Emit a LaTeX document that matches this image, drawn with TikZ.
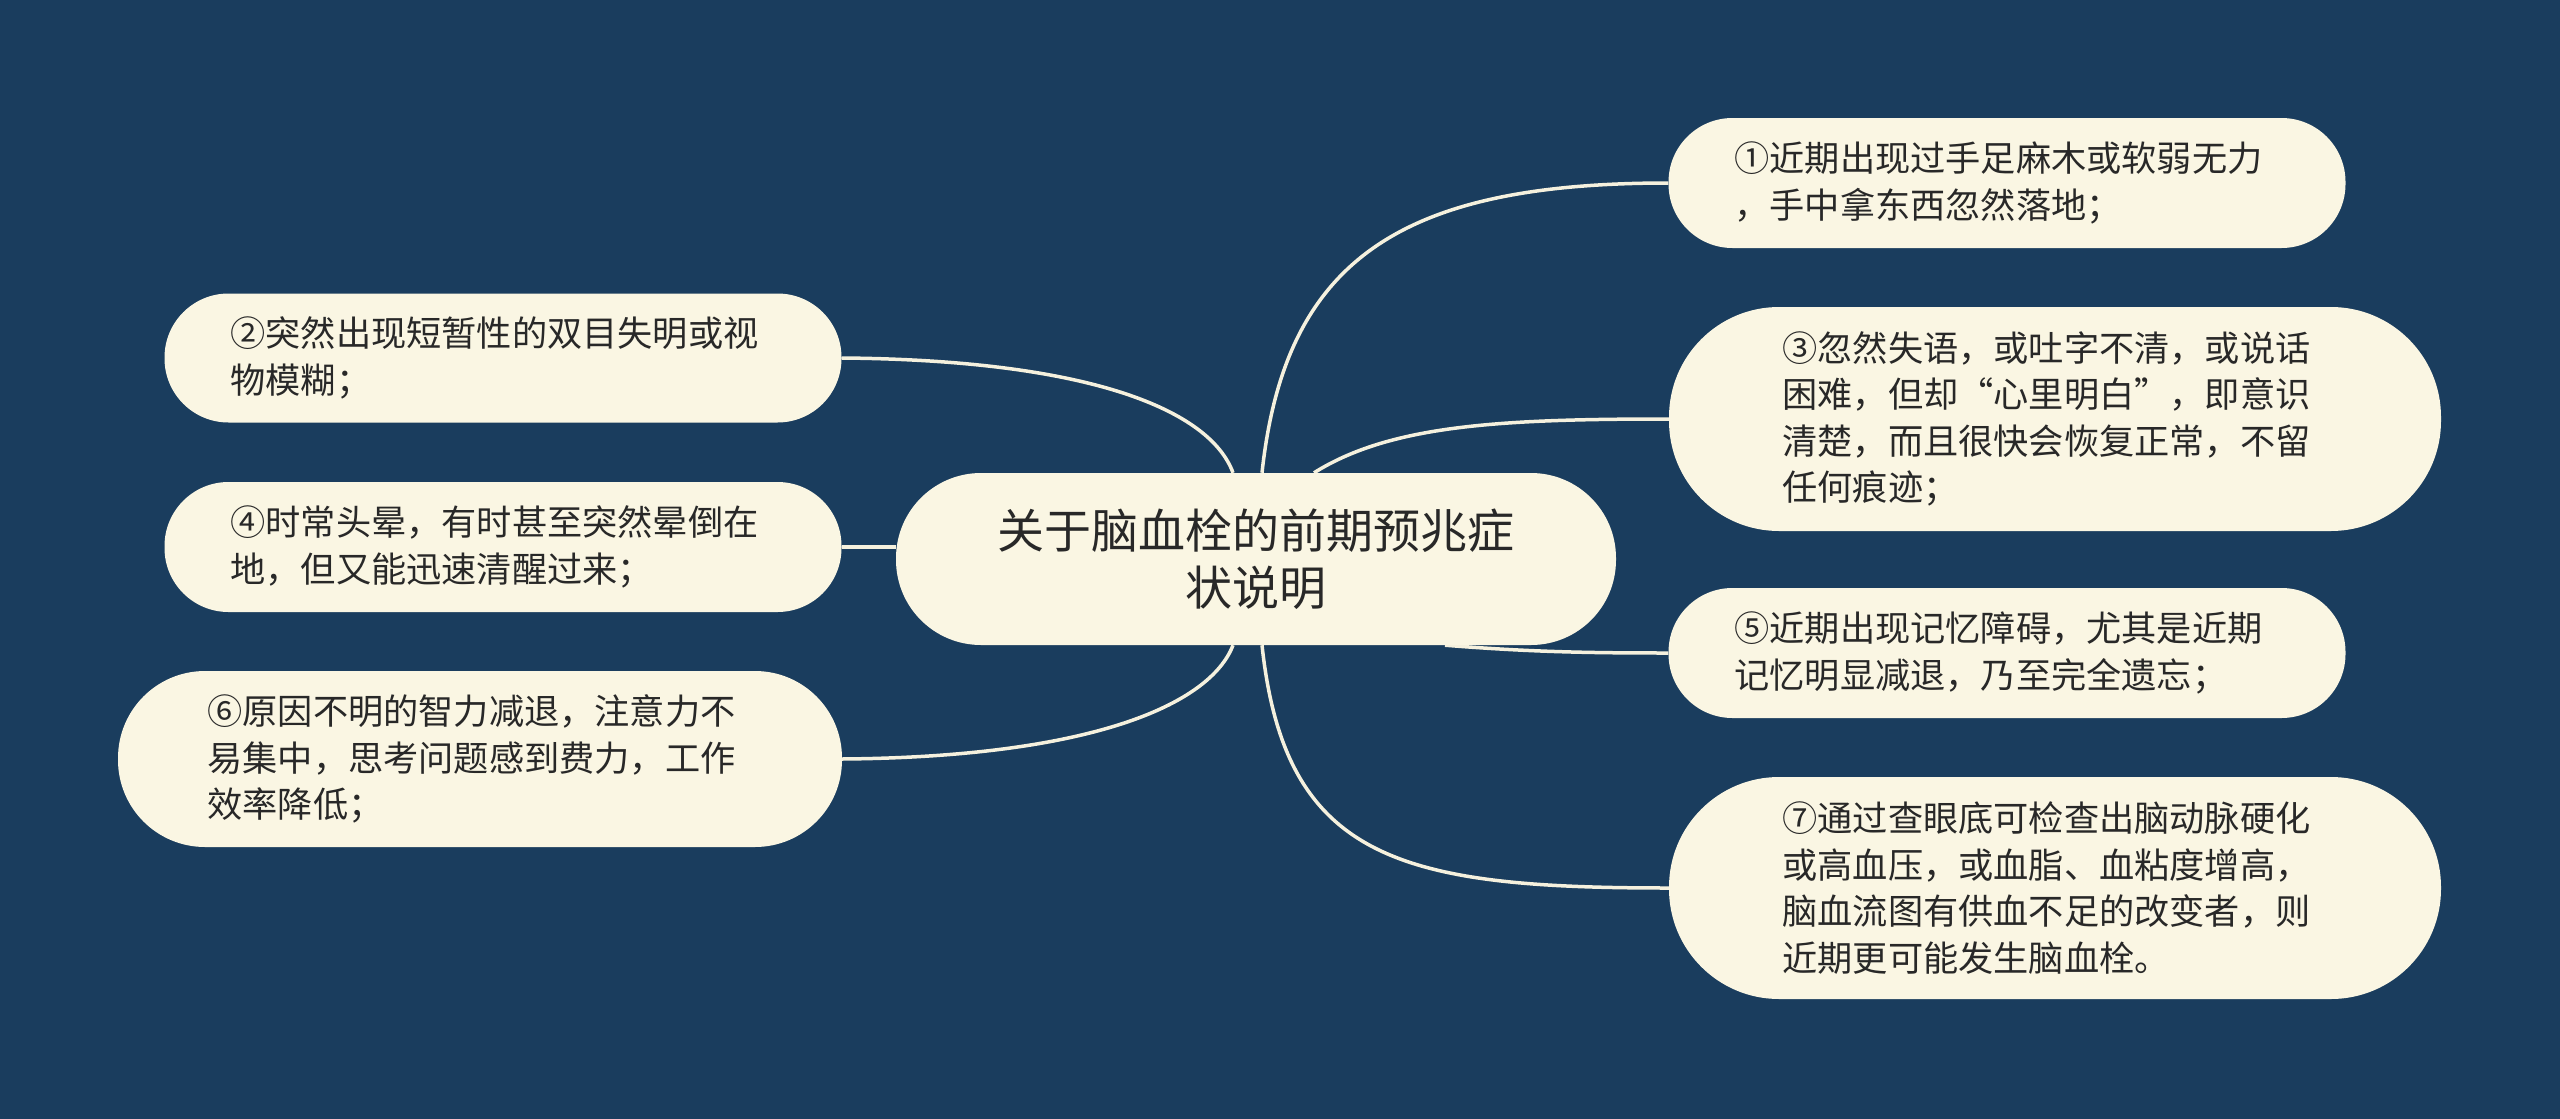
\documentclass[tikz,border=0pt]{standalone}
\usepackage{fontspec}
\newfontfamily\cjk{Noto Sans CJK SC}
\definecolor{mmnavy}{RGB}{26,61,94}
\definecolor{mmcream}{RGB}{250,246,227}
\definecolor{mmtext}{RGB}{40,40,40}
\definecolor{mmline}{RGB}{245,241,222}
\usetikzlibrary{backgrounds}

\begin{document}
\begin{tikzpicture}[x=1pt,y=-1pt,
  topic/.style={fill=mmcream, text=mmtext, inner sep=0pt, align=center,
    font=\cjk\fontsize{47}{57}\selectfont},
  leaf/.style={fill=mmcream, text=mmtext, inner sep=0pt, text width=545pt,
    align=left, font=\cjk\fontsize{35.2}{46.6}\selectfont},
  branch/.style={draw=mmline, line width=3.5pt}]

  % Central topic
  \node[topic, minimum width=720pt, minimum height=172pt, rounded corners=85pt] (ctr) at (1256,559)
    {关于脑血栓的前期预兆症\\状说明};

  % Right branches
  \node[leaf, minimum width=677pt, minimum height=130pt, rounded corners=64pt] (s1) at (2007,183)
    {①近期出现过手足麻木或软弱无力\\，手中拿东西忽然落地；};
  \node[leaf, minimum width=772pt, minimum height=224pt, rounded corners=110pt] (s3) at (2055,419)
    {③忽然失语，或吐字不清，或说话\\困难，但却“心里明白”，即意识\\清楚，而且很快会恢复正常，不留\\任何痕迹；};
  \node[leaf, minimum width=677pt, minimum height=130pt, rounded corners=64pt] (s5) at (2007,653)
    {⑤近期出现记忆障碍，尤其是近期\\记忆明显减退，乃至完全遗忘；};
  \node[leaf, minimum width=772pt, minimum height=222pt, rounded corners=110pt] (s7) at (2055,888)
    {⑦通过查眼底可检查出脑动脉硬化\\或高血压，或血脂、血粘度增高，\\脑血流图有供血不足的改变者，则\\近期更可能发生脑血栓。};

  % Left branches
  \node[leaf, minimum width=677pt, minimum height=129pt, rounded corners=64pt] (s2) at (503,358)
    {②突然出现短暂性的双目失明或视\\物模糊；};
  \node[leaf, minimum width=677pt, minimum height=130pt, rounded corners=64pt] (s4) at (503,547)
    {④时常头晕，有时甚至突然晕倒在\\地，但又能迅速清醒过来；};
  \node[leaf, minimum width=724pt, minimum height=176pt, rounded corners=87pt] (s6) at (480,759)
    {⑥原因不明的智力减退，注意力不\\易集中，思考问题感到费力，工作\\效率降低；};

  \begin{pgfonlayer}{background}
    % Backdrop
    \fill[mmnavy] (0,0) rectangle (2560,1119);

    % Connectors
    \draw[branch] ([xshift=6pt]ctr.north) .. controls (1285,260) and (1400,183) .. (s1.west);
    \draw[branch] ([xshift=58pt]ctr.north) .. controls (1390,425) and (1500,419) .. (s3.west);
    \draw[branch] ([xshift=189pt]ctr.south) .. controls (1530,652) and (1590,653) .. (s5.west);
    \draw[branch] ([xshift=6pt]ctr.south) .. controls (1285,860) and (1400,888) .. (s7.west);
    \draw[branch] (s2.east) .. controls (1090,360) and (1210,410) .. ([xshift=-23pt]ctr.north);
    \draw[branch] (s4.east) -- (s4.east -| ctr.west);
    \draw[branch] (s6.east) .. controls (1090,757) and (1210,705) .. ([xshift=-23pt]ctr.south);
  \end{pgfonlayer}
\end{tikzpicture}
\end{document}
